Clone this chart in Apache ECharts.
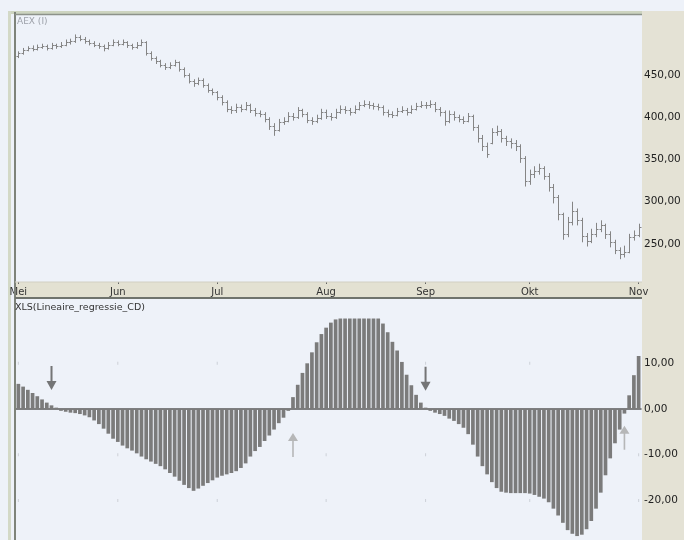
<!DOCTYPE html>
<html><head><meta charset="utf-8">
<script src="https://cdn.jsdelivr.net/npm/echarts@6/dist/echarts.min.js"></script>
<style>html,body{margin:0;padding:0;background:#eef2f9;}#c{width:684px;height:540px;}</style>
</head><body><div id="c"></div>
<script>
// ---- data ----
const months = ['Mei','Jun','Jul','Aug','Sep','Okt','Nov'];
const monthIdx = [0,21,42,65,86,108,131];
const priceTicks = [250,300,350,400,450];
const regTicks = [10,0,-10,-20];

const open = [473,476,480,482,481,483,484,482,485,484,486,489,490,495,493,490,488,486,484,482,486,489,487,489,485,483,486,489,476,470,466,462,459,462,465,457,450,443,440,444,438,432,430,424,418,410,408,412,410,414,409,405,404,398,390,385,394,396,402,400,408,404,397,395,399,406,402,400,406,410,408,406,410,414,416,414,413,412,406,404,403,407,409,406,410,413,415,414,416,410,406,395,404,400,398,396,401,389,376,366,370,382,384,375,372,369,366,352,325,333,336,340,331,318,306,285,262,276,289,278,260,254,262,268,272,262,252,243,238,241,258,261];
const high = [478,482,484,485,486,487,486,488,487,489,492,493,498,497,495,492,490,488,486,489,492,491,492,490,487,489,492,490,478,472,468,464,465,468,466,459,452,445,447,446,440,434,431,426,420,413,416,415,418,416,411,408,406,400,393,398,400,406,405,412,410,406,400,403,410,409,405,410,414,413,411,414,418,420,419,417,416,414,409,407,411,413,411,414,417,419,418,420,418,412,408,408,407,403,401,405,403,391,379,370,387,390,386,378,375,373,368,354,338,342,345,342,334,321,308,287,282,300,292,281,263,268,275,278,274,265,255,246,248,262,266,274];
const low = [470,474,478,478,479,481,479,480,481,482,484,486,488,490,487,485,483,481,478,480,484,484,485,482,480,481,484,473,467,463,459,456,457,460,454,447,440,436,438,435,429,426,420,414,406,404,405,406,408,405,401,400,394,385,378,383,391,394,396,398,400,393,391,393,397,398,396,398,404,404,402,404,408,412,410,409,408,402,400,399,401,405,402,404,408,411,410,411,406,401,390,393,396,394,392,394,384,370,360,352,368,378,370,366,363,360,346,318,320,328,332,326,312,298,278,255,258,272,272,252,247,251,258,264,256,246,238,232,234,239,254,258];
const close = [476,480,482,481,483,484,482,485,484,486,489,490,495,493,490,488,486,484,482,486,489,487,489,485,483,486,489,476,470,466,462,459,462,465,457,450,443,440,444,438,432,430,424,418,410,408,412,410,414,409,405,404,398,390,385,394,396,402,400,408,404,397,395,399,406,402,400,406,410,408,406,410,414,416,414,413,412,406,404,403,407,409,406,410,413,415,414,416,410,406,395,404,400,398,396,401,389,376,366,357,382,384,375,372,369,366,352,325,333,336,340,331,318,306,285,262,276,289,278,260,254,262,268,272,262,252,243,238,241,258,261,270];

const regression = [5.5,4.9,4.2,3.5,2.8,2.1,1.4,0.8,0.3,-0.4,-0.6,-0.8,-0.9,-1.1,-1.4,-1.8,-2.5,-3.3,-4.3,-5.4,-6.5,-7.2,-8.0,-8.6,-9.1,-9.7,-10.4,-11.0,-11.5,-12.0,-12.5,-13.2,-14.0,-14.8,-15.7,-16.6,-17.3,-17.9,-17.4,-16.8,-16.2,-15.6,-15.0,-14.6,-14.3,-14.0,-13.6,-12.9,-11.9,-10.4,-9.2,-8.3,-7.0,-5.8,-4.5,-3.1,-1.9,-0.4,2.6,5.3,7.9,10.0,12.4,14.6,16.4,17.8,18.9,19.6,19.8,19.8,19.8,19.8,19.8,19.8,19.8,19.8,19.8,18.7,16.8,14.7,12.8,10.3,7.5,5.2,3.1,1.4,0.3,-0.4,-0.8,-1.1,-1.5,-2.1,-2.6,-3.3,-4.1,-5.5,-7.8,-10.4,-12.5,-14.3,-16.0,-17.3,-18.1,-18.3,-18.4,-18.4,-18.4,-18.4,-18.5,-18.8,-19.2,-19.6,-20.4,-21.8,-23.3,-24.9,-26.5,-27.3,-27.8,-27.5,-26.3,-24.5,-21.8,-18.3,-14.5,-10.8,-7.5,-4.5,-1.0,3.0,7.4,11.6];

const sellIdx = [7, 86];
const sellVal = [6.8, 6.6];
const buyIdx = [58, 128];
const buyVal = [-7.9, -6.3];

// ---- build ----
const days = close.map((_, i) => String(i));
const ohlc = close.map((c, i) => [i, open[i], high[i], low[i], c]);
const fmt = v => v.toFixed(2).replace('.', ',');
const inList = (list, v) => list.some(t => Math.abs(t - v) < 1e-6);

const gridDots = [];
monthIdx.forEach(m => regTicks.forEach(t => { if (t !== 0) gridDots.push([m, t]); }));

const arrowDown = 'path://M4,0 L6,0 L6,15 L10,15 L5,24 L0,15 L4,15 Z';
const arrowUp = 'path://M5,0 L10,8 L5.8,8 L5.8,24 L4.2,24 L4.2,8 L0,8 Z';

const chart = echarts.init(document.getElementById('c'));
const FONT = 'DejaVu Sans';

chart.setOption({
  backgroundColor: '#eef2f9',
  animation: false,
  grid: [
    { left: 16, right: 43, top: 15, height: 267 },
    { left: 16, right: 43, top: 299, height: 241 }
  ],
  xAxis: [
    {
      type: 'category', gridIndex: 0, data: days, boundaryGap: true,
      axisLine: { show: false },
      axisTick: { show: true, alignWithLabel: true, length: 2, lineStyle: { color: '#666' },
                  interval: (i) => monthIdx.includes(i) },
      axisLabel: { interval: (i) => monthIdx.includes(i), margin: 5, fontSize: 10, fontFamily: FONT, color: '#333',
                   formatter: (v, i) => months[monthIdx.indexOf(i)] || '' },
      splitLine: { show: false }
    },
    {
      type: 'category', gridIndex: 1, data: days, boundaryGap: true,
      axisLine: { show: true, onZero: true, lineStyle: { color: '#5a5a5a', width: 1.5 } },
      axisTick: { show: false }, axisLabel: { show: false }, splitLine: { show: false }
    }
  ],
  yAxis: [
    {
      type: 'value', gridIndex: 0, position: 'right', min: 205, max: 521,
      axisLine: { show: false }, axisTick: { show: false }, splitLine: { show: false },
      axisLabel: { margin: 3, fontSize: 10.5, fontFamily: FONT, color: '#222',
                   showMinLabel: false, showMaxLabel: false,
                   formatter: v => inList(priceTicks, v) ? fmt(v) : '' }
    },
    {
      type: 'value', gridIndex: 1, position: 'right', min: -28.66, max: 24.07,
      axisLine: { show: false }, axisTick: { show: false }, splitLine: { show: false },
      axisLabel: { margin: 3, fontSize: 10.5, fontFamily: FONT, color: '#222',
                   showMinLabel: false, showMaxLabel: false,
                   formatter: v => inList(regTicks, v) ? fmt(v) : '' }
    }
  ],
  series: [
    {
      type: 'custom', xAxisIndex: 0, yAxisIndex: 0, data: ohlc,
      encode: { x: 0, y: [1, 2, 3, 4] },
      renderItem: (params, api) => {
        const i = api.value(0);
        const o = api.coord([i, api.value(1)]);
        const h = api.coord([i, api.value(2)]);
        const l = api.coord([i, api.value(3)]);
        const c = api.coord([i, api.value(4)]);
        const xc = Math.round(h[0]) + 0.5;
        const st = { stroke: '#858585', lineWidth: 1 };
        return { type: 'group', children: [
          { type: 'line', shape: { x1: xc, y1: h[1], x2: xc, y2: l[1] }, style: st },
          { type: 'line', shape: { x1: xc - 2, y1: Math.round(o[1]) + 0.5, x2: xc, y2: Math.round(o[1]) + 0.5 }, style: st },
          { type: 'line', shape: { x1: xc, y1: Math.round(c[1]) + 0.5, x2: xc + 2, y2: Math.round(c[1]) + 0.5 }, style: st }
        ]};
      }
    },
    {
      type: 'scatter', xAxisIndex: 1, yAxisIndex: 1, data: gridDots, z: 1,
      symbol: 'rect', symbolSize: [1, 3], itemStyle: { color: '#c4c8d0' }, silent: true
    },
    {
      type: 'bar', xAxisIndex: 1, yAxisIndex: 1, data: regression, barWidth: '78%', z: 2,
      itemStyle: { color: '#7b7b7b' }
    },
    {
      type: 'scatter', xAxisIndex: 1, yAxisIndex: 1, z: 5,
      data: sellIdx.map((x, k) => [x, sellVal[k]]),
      symbol: arrowDown, symbolSize: [10, 24], itemStyle: { color: '#555555' }
    },
    {
      type: 'scatter', xAxisIndex: 1, yAxisIndex: 1, z: 5,
      data: buyIdx.map((x, k) => [x, buyVal[k]]),
      symbol: arrowUp, symbolSize: [10, 24], itemStyle: { color: '#a8a8a8' }
    }
  ],
  graphic: [
    { type: 'rect', z: -10, shape: { x: 642, y: 11, width: 42, height: 529 }, style: { fill: '#e4e2d5' } },
    { type: 'rect', z: -10, shape: { x: 16, y: 282, width: 626, height: 15 }, style: { fill: '#e3e1d2' } },
    { type: 'rect', z: -10, shape: { x: 8, y: 11, width: 634, height: 3 }, style: { fill: '#cdd4c0' } },
    { type: 'rect', z: -10, shape: { x: 8, y: 11, width: 3, height: 529 }, style: { fill: '#d3d9c7' } },
    { type: 'line', z: 10, shape: { x1: 15, y1: 12, x2: 15, y2: 540 }, style: { stroke: '#7e837a', lineWidth: 2 } },
    { type: 'line', z: 10, shape: { x1: 15, y1: 14.5, x2: 642, y2: 14.5 }, style: { stroke: '#8d928a', lineWidth: 1.5 } },
    { type: 'line', z: 10, shape: { x1: 15, y1: 282, x2: 642, y2: 282 }, style: { stroke: '#d2d0c2', lineWidth: 1 } },
    { type: 'line', z: 10, shape: { x1: 15, y1: 298, x2: 642, y2: 298 }, style: { stroke: '#6f736d', lineWidth: 2 } },
    { type: 'text', z: 10, left: 17, top: 17, style: { text: 'AEX (I)', fontSize: 9, fontFamily: FONT, fill: '#9ea2aa' } },
    { type: 'text', z: 10, left: 15, top: 303, style: { text: 'XLS(Lineaire_regressie_CD)', fontSize: 9.5, fontFamily: FONT, fill: '#333' } }
  ]
});
</script>
</body></html>
